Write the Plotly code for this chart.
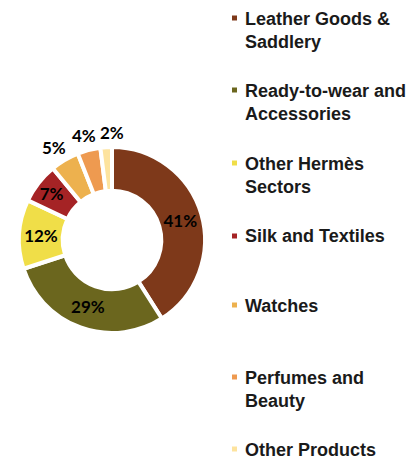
import math
import plotly.graph_objects as go

# Revenue breakdown by business line (%)
categories = [
    "Leather Goods &<br>Saddlery",
    "Ready-to-wear and<br>Accessories",
    "Other Hermès<br>Sectors",
    "Silk and Textiles",
    "Watches",
    "Perfumes and<br>Beauty",
    "Other Products",
]
shares = [41, 29, 12, 7, 5, 4, 2]
colors = ["#7E391A", "#6B661E", "#F0DE48", "#A52325", "#EDB14E", "#EE9A50", "#FDE39E"]
# small slices get their value printed just outside the ring
label_outside = [False, False, False, False, True, True, True]

# legend rows: vertical centre of the first line (px from top)
legend_rows = [18, 90, 163, 236, 305, 377, 449]

W, H = 415, 459
PIE_X = (19, 205)    # px, left/right of ring
PIE_Y = (147, 333)   # px, top/bottom of ring

pct_font = dict(family="Lato, Open Sans, sans-serif", size=17, color="black")

fig = go.Figure()
fig.add_trace(go.Pie(
    labels=categories,
    values=shares,
    hole=0.53,
    sort=False,
    direction="clockwise",
    rotation=0,
    marker=dict(colors=colors, line=dict(color="white", width=4)),
    texttemplate=["" if o else "<b>%{value}%</b>" for o in label_outside],
    textposition="inside",
    insidetextorientation="horizontal",
    textfont=pct_font,
    domain=dict(x=[PIE_X[0] / W, PIE_X[1] / W],
                y=[(H - PIE_Y[1]) / H, (H - PIE_Y[0]) / H]),
    showlegend=False,
    hoverinfo="label+percent",
))

annotations = []

# value labels for the thin slices, placed beyond each slice's mid-angle
cx = (PIE_X[0] + PIE_X[1]) / 2
cy = (PIE_Y[0] + PIE_Y[1]) / 2
radius = (PIE_X[1] - PIE_X[0]) / 2
half_w, half_h, gap, offset = 12, 7, 4, 8
total = sum(shares)
cum = 0
placed = []
for val, outside in zip(shares, label_outside):
    mid = (cum + val / 2) / total * 2 * math.pi
    cum += val
    if not outside:
        continue
    s, c = math.sin(mid), math.cos(mid)
    px = cx + (radius + offset) * s + half_w * s
    py = cy - (radius + offset) * c - half_h * c
    # nudge sideways if it would collide with the previous label
    if placed:
        qx, qy = placed[-1]
        if abs(py - qy) < 2 * half_h and px < qx + 2 * half_w + gap:
            px = qx + 2 * half_w + gap
    placed.append((px, py))
    annotations.append(dict(
        xref="paper", yref="paper",
        x=px / W, y=(H - py) / H,
        xanchor="center", yanchor="middle",
        text=f"<b>{val}%</b>", showarrow=False,
        font=pct_font,
    ))

shapes = []
for name, col, yc in zip(categories, colors, legend_rows):
    shapes.append(dict(
        type="rect", xref="paper", yref="paper",
        x0=232 / W, x1=237 / W,
        y0=(H - yc - 2.5) / H, y1=(H - yc + 2.5) / H,
        fillcolor=col, line=dict(width=0),
    ))
    annotations.append(dict(
        xref="paper", yref="paper",
        x=243 / W, y=(H - yc + 11.5) / H,
        xanchor="left", yanchor="top", align="left",
        text=f"<b>{name}</b>", showarrow=False,
        font=dict(family="Liberation Sans, Arial, sans-serif", size=18, color="#1a1a1a"),
    ))

fig.update_layout(
    width=W, height=H,
    margin=dict(l=0, r=0, t=0, b=0),
    paper_bgcolor="white",
    plot_bgcolor="white",
    shapes=shapes,
    annotations=annotations,
)

fig.write_html("out.html")
